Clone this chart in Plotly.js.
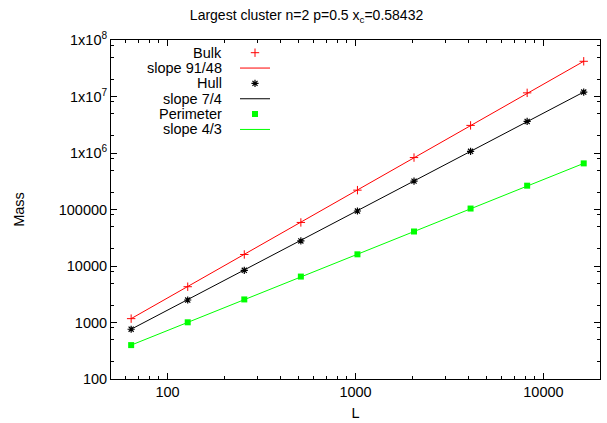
<!DOCTYPE html>
<html>
<head>
<meta charset="utf-8">
<script src="https://cdn.plot.ly/plotly-3.0.1.min.js"></script>
<style>html,body{margin:0;padding:0;background:#fff;}</style>
</head>
<body>
<div id="chart" style="width:607px;height:423px;"></div>
<script>
// ---- data ----
const L = [64, 128, 256, 512, 1024, 2048, 4096, 8192, 16384];
const bulk = [1170, 4300, 16000, 59000, 220000, 830000, 3.08e6, 1.16e7, 4.2e7];
const hull = [760, 2500, 8400, 27800, 94000, 318000, 1.07e6, 3.62e6, 1.2e7];
const perimeter = [398, 1008, 2560, 6500, 16100, 40800, 104000, 264000, 655000];
const fitL = [64, 16384];
const bulkFit = [1170, 4.2e7];
const hullFit = [760, 1.2e7];
const perimeterFit = [398, 655000];
const seriesNames = ['Bulk', 'slope 91/48', 'Hull', 'slope 7/4', 'Perimeter', 'slope 4/3'];
const xTickVals = [100, 1000, 10000];
const xTickText = ['100', '1000', '10000'];
const xMinorVals = [60, 70, 80, 90, 200, 300, 400, 500, 600, 700, 800, 900,
  2000, 3000, 4000, 5000, 6000, 7000, 8000, 9000];
const yTickVals = [100, 1000, 10000, 100000, 1e6, 1e7, 1e8];
const yTickText = ['100', '1000', '10000', '100000', '1x10<sup>6</sup>', '1x10<sup>7</sup>', '1x10<sup>8</sup>'];
const yMinorVals = [200, 500, 800, 2000, 5000, 8000, 20000, 50000, 80000,
  200000, 500000, 800000, 2e6, 5e6, 8e6, 2e7, 5e7, 8e7];

const FONT = 'Liberation Sans, Arial, sans-serif';
const RED = '#ff0000', BLACK = '#000000', GREEN = '#00ff00';
const legendIds = ['legend', 'legend2', 'legend3', 'legend4', 'legend5', 'legend6'];

const traces = [
  {x: L, y: bulk, mode: 'markers',
   marker: {symbol: 'cross-thin-open', size: 6, color: RED, line: {color: RED, width: 1}}},
  {x: fitL, y: bulkFit, mode: 'lines', line: {color: RED, width: 1}},
  {x: L, y: hull, mode: 'markers',
   marker: {symbol: 'asterisk-open', size: 6, color: BLACK, line: {color: BLACK, width: 1.2}}},
  {x: fitL, y: hullFit, mode: 'lines', line: {color: BLACK, width: 1}},
  {x: L, y: perimeter, mode: 'markers',
   marker: {symbol: 'square', size: 6, color: GREEN, line: {width: 0}}},
  {x: fitL, y: perimeterFit, mode: 'lines', line: {color: GREEN, width: 1}}
];
// key samples go in the legends; key labels are drawn gnuplot-style (right-aligned, left of sample)
traces.forEach((t, i) => { t.name = ''; t.showlegend = true; t.legend = legendIds[i]; });

const M = {l: 111, r: 7, t: 40, b: 44};
const W = 607, H = 423;
const pw = W - M.l - M.r, ph = H - M.t - M.b;
const rowTop = 52.7, rowGap = 15.35;

const annotations = seriesNames.map((t, i) => ({
  text: t, xref: 'paper', yref: 'paper',
  x: (224 - M.l) / pw, y: 1 - (rowTop + i * rowGap - M.t) / ph,
  xanchor: 'right', yanchor: 'middle', showarrow: false,
  font: {family: FONT, size: 14.5, color: '#000'}
}));

const axisCommon = {
  type: 'log', showgrid: false, zeroline: false, showline: true,
  linecolor: '#000', linewidth: 1, mirror: 'allticks',
  ticks: 'inside', ticklen: 6, tickwidth: 1, tickcolor: '#000',
  tickmode: 'array', tickfont: {family: FONT, size: 14.5, color: '#000'}
};

const layout = {
  width: W, height: H, margin: M,
  paper_bgcolor: '#fff', plot_bgcolor: '#fff',
  font: {family: FONT, color: '#000'},
  showlegend: true,
  title: {text: 'Largest cluster n=2 p=0.5 x<sub>c</sub>=0.58432',
    font: {family: FONT, size: 14, color: '#000'},
    xref: 'container', x: 0.505, y: 1 - 15 / H, yanchor: 'middle'},
  xaxis: Object.assign({}, axisCommon, {
    range: [Math.log10(50), Math.log10(20000)],
    tickvals: xTickVals, ticktext: xTickText,
    minor: {tickmode: 'array', tickvals: xMinorVals, ticks: 'inside', ticklen: 3, tickcolor: '#000', showgrid: false},
    title: {text: 'L', font: {family: FONT, size: 14.5, color: '#000'}, standoff: 8}
  }),
  yaxis: Object.assign({}, axisCommon, {
    range: [2, 8],
    tickvals: yTickVals, ticktext: yTickText,
    minor: {tickmode: 'array', tickvals: yMinorVals, ticks: 'inside', ticklen: 3, tickcolor: '#000', showgrid: false},
    title: {text: 'Mass', font: {family: FONT, size: 14.5, color: '#000'}, standoff: 30}
  }),
  annotations: annotations
};
legendIds.forEach((id, i) => {
  layout[id] = {
    x: (235 - M.l) / pw, xanchor: 'left',
    y: 1 - (rowTop + i * rowGap - M.t) / ph, yanchor: 'middle',
    bgcolor: 'rgba(0,0,0,0)', borderwidth: 0,
    font: {family: FONT, size: 12, color: '#000'}
  };
});

Plotly.newPlot('chart', traces, layout, {staticPlot: true, displayModeBar: false});
</script>
</body>
</html>
